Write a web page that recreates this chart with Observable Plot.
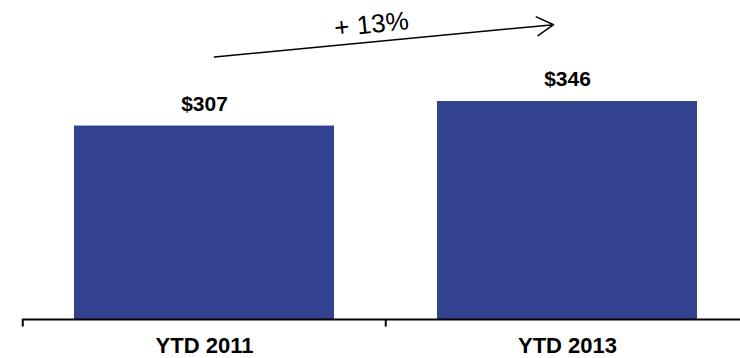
<!DOCTYPE html>
<html>
<head>
<meta charset="utf-8">
<script src="https://cdn.jsdelivr.net/npm/d3@7"></script>
<script src="https://cdn.jsdelivr.net/npm/@observablehq/plot@0.6"></script>
<style>
  html, body { margin: 0; padding: 0; background: #fff; }
</style>
</head>
<body>
<div id="chart"></div>
<script>
const categories = ["YTD 2011", "YTD 2013"];
const values = [307, 346];
const valueLabels = ["$307", "$346"];
const growthLabel = "+ 13%";
// annotation arrow endpoints (in value units)
const arrowFrom = 415;
const arrowTo = 470;
const growthLabelY = 468;

const data = categories.map((c, i) => ({category: c, value: values[i], label: valueLabels[i]}));
const arrowData = [{from: categories[0], to: categories[1], y1: arrowFrom, y2: arrowTo}];

const W = 740, H = 358;
const xRange = [22, 749];
const paddingInner = 0.284;
const step = (xRange[1] - xRange[0]) / categories.length;

const chart = Plot.plot({
  width: W,
  height: H,
  marginLeft: 22,
  marginRight: 0,
  marginTop: 0,
  marginBottom: 39,
  style: {fontFamily: "'Liberation Sans', Arial, sans-serif", background: "#fff", color: "#000"},
  x: {type: "band", domain: categories, range: xRange, paddingInner: paddingInner, paddingOuter: paddingInner / 2, label: null},
  y: {domain: [0, 346], range: [319, 101], axis: null},
  marks: [
    Plot.barY(data, {x: "category", y: "value", fill: "#32428f"}),
    Plot.ruleY([0], {stroke: "#000", strokeWidth: 2}),
    Plot.ruleX(data, {x: "category", dx: -step / 2, y1: 0, y2: -12, stroke: "#000", strokeWidth: 2}),
    Plot.axisX({tickSize: 0, tickPadding: 18, fontSize: 22, fontWeight: "bold", label: null}),
    Plot.text(data, {x: "category", y: "value", text: "label", dy: -22, lineAnchor: "middle", fontSize: 21, fontWeight: "bold", fill: "#000"}),
    Plot.arrow(arrowData, {x1: "from", x2: "to", y1: "y1", y2: "y2", insetStart: 10, insetEnd: 14, headLength: 19, strokeWidth: 1.5, stroke: "#000"}),
    Plot.text([growthLabel], {frameAnchor: "middle", y: () => growthLabelY, text: d => d, rotate: -6, dx: -10, fontSize: 26, fill: "#000"})
  ]
});
document.getElementById("chart").appendChild(chart);
</script>
</body>
</html>
